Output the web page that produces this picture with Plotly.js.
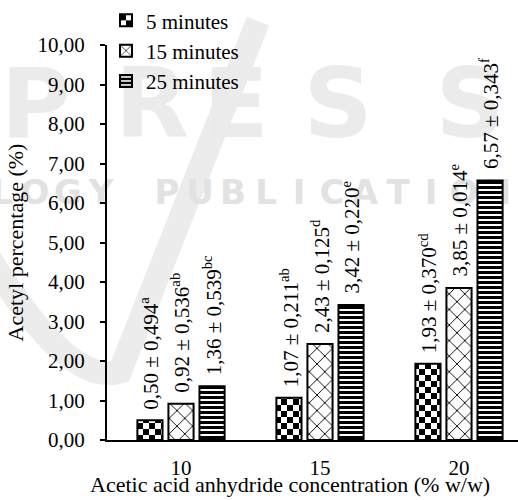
<!DOCTYPE html>
<html><head><meta charset="utf-8">
<script src="https://cdn.plot.ly/plotly-3.0.1.min.js"></script>
<style>
html,body{margin:0;padding:0;background:#fff}
#chart{width:518px;height:500px}
#chart .xtick text, #chart .ytick text, #chart .annotation-text, #chart .legendtext, #chart .ytitle { font-family: 'Liberation Serif' !important; }
</style>
</head><body><div id="chart"></div>
<script>
// ---- data ----
const categories = ['10', '15', '20'];
const seriesNames = ['5 minutes', '15 minutes', '25 minutes'];
const values5 = [0.50, 1.07, 1.93];
const values15 = [0.92, 2.43, 3.85];
const values25 = [1.36, 3.42, 6.57];
const sd5 = [0.494, 0.211, 0.370];
const sd15 = [0.536, 0.125, 0.014];
const sd25 = [0.539, 0.220, 0.343];
const letters5 = ['a', 'ab', 'cd'];
const letters15 = ['ab', 'd', 'e'];
const letters25 = ['bc', 'e', 'f'];
const yTickVals = [0, 1, 2, 3, 4, 5, 6, 7, 8, 9, 10];
const xTitle = 'Acetic acid anhydride concentration (% w/w)';
const yTitle = 'Acetyl percentage (%)';

(function () {
  const W = 518, H = 500;
  const MG = {l: 107, r: 0, t: 25, b: 60};
  const PW = W - MG.l - MG.r, PH = H - MG.t - MG.b;
  const px2x = p => (p - MG.l) / PW;
  const py2y = p => (H - MG.b - p) / PH;
  const FAM = 'Liberation Serif';
  const WMFAM = 'DejaVu Sans';
  const BARGAP = 0.33, BARGROUPGAP = 0.19;
  const fmt = (v, d) => v.toFixed(d).replace('.', ',');

  const allValues = [values5, values15, values25];
  const allSd = [sd5, sd15, sd25];
  const allLetters = [letters5, letters15, letters25];
  const patterns = [
    null,
    {shape: 'x', fgcolor: '#000', bgcolor: '#fff', size: 11, solidity: 0.16, fillmode: 'replace'},
    {shape: '-', fgcolor: '#000', bgcolor: '#fff', size: 5, solidity: 0.6, fillmode: 'replace'}
  ];

  const data = seriesNames.map((name, i) => {
    const m = {color: '#fff', line: {color: '#000', width: 2}};
    if (patterns[i]) m.pattern = patterns[i];
    return {type: 'bar', name: name, x: categories, y: allValues[i], marker: m, hoverinfo: 'skip'};
  });

  // ---- watermark (decoration, drawn below everything as shape labels) ----
  const shapes = [];
  const wmLabel = (ch, cx, cy, size, color) => shapes.push({
    type: 'rect', xref: 'paper', yref: 'paper', layer: 'below',
    x0: px2x(cx - 10), x1: px2x(cx + 10), y0: py2y(cy + 10), y1: py2y(cy - 10),
    line: {width: 0}, fillcolor: 'rgba(0,0,0,0)',
    label: {text: ch, textposition: 'middle center', font: {family: WMFAM, size: size, color: color, weight: 700}}
  });
  const swoosh = [[-10, 250], [70, 385], [120, 368], [258, 0]].map(p => [px2x(p[0]), py2y(p[1])]);
  shapes.push({
    type: 'path', xref: 'paper', yref: 'paper', layer: 'below',
    path: `M${swoosh[0][0]},${swoosh[0][1]} Q${swoosh[1][0]},${swoosh[1][1]} ${swoosh[2][0]},${swoosh[2][1]} L${swoosh[3][0]},${swoosh[3][1]}`,
    line: {color: '#ececec', width: 24}
  });
  const wmBig = 'PRESS';
  const wmBigX = [36, 152, 236, 338, 470];
  for (let k = 0; k < wmBig.length; k++) wmLabel(wmBig[k], wmBigX[k], 80, 96, '#ebebeb');
  const wmSmall = 'LOGY PUBLICATIONS';
  for (let k = 0; k < wmSmall.length; k++) if (wmSmall[k] !== ' ') wmLabel(wmSmall[k], 2 + 33 * k, 177, 34, '#e2e2e2');

  // ---- value labels above bars ----
  const annotations = [];
  const slot = (1 - BARGAP) / seriesNames.length;
  seriesNames.forEach((name, i) => {
    categories.forEach((c, j) => {
      annotations.push({
        xref: 'x', yref: 'y', x: j + (i - 1) * slot, y: allValues[i][j],
        xanchor: 'center', yanchor: 'bottom', yshift: 9, textangle: -90,
        text: fmt(allValues[i][j], 2) + ' ± ' + fmt(allSd[i][j], 3) + '<sup>' + allLetters[i][j] + '</sup>',
        showarrow: false, font: {family: FAM, size: 21, color: '#000'}
      });
    });
  });
  // x-axis title
  annotations.push({
    xref: 'paper', yref: 'paper', x: px2x(290), y: py2y(487), xanchor: 'center', yanchor: 'middle',
    text: xTitle, showarrow: false, font: {family: FAM, size: 22, color: '#000'}
  });

  const layout = {
    width: W, height: H, margin: {l: MG.l, r: MG.r, t: MG.t, b: MG.b, pad: 0},
    paper_bgcolor: '#fff', plot_bgcolor: 'rgba(0,0,0,0)',
    separators: ',.',
    font: {family: FAM, size: 21, color: '#000'},
    barmode: 'group', bargap: BARGAP, bargroupgap: BARGROUPGAP,
    showlegend: true,
    xaxis: {
      type: 'category', range: [-0.5324, 2.4245], showline: true, linewidth: 2, linecolor: '#000',
      ticks: '', showgrid: false, zeroline: false, ticklabelstandoff: 8, tickfont: {family: FAM, size: 21, color: '#000'}
    },
    yaxis: {
      range: [0, 10], tickmode: 'array', tickvals: yTickVals, tickformat: '.2f',
      showline: true, linewidth: 2, linecolor: '#000', ticks: 'outside', ticklen: 5, tickwidth: 2, tickcolor: '#000',
      showgrid: false, zeroline: false, ticklabelstandoff: 11, tickfont: {family: FAM, size: 21, color: '#000'},
      title: {text: yTitle, font: {family: FAM, size: 22, color: '#000'}, standoff: 8}
    },
    legend: {
      orientation: 'h', x: px2x(106), xanchor: 'left', y: py2y(31), yanchor: 'middle',
      bgcolor: 'rgba(0,0,0,0)', font: {family: FAM, size: 21, color: '#000'}, traceorder: 'normal'
    },
    annotations: annotations,
    shapes: shapes
  };

  const gd = document.getElementById('chart');
  Plotly.newPlot(gd, data, layout, {staticPlot: true, displayModeBar: false}).then(() => {
    // checkerboard fill for the "5 minutes" series (not a built-in pattern shape)
    const ns = 'http://www.w3.org/2000/svg';
    const defs = gd.querySelector('svg.main-svg defs');
    const pat = document.createElementNS(ns, 'pattern');
    pat.setAttribute('id', 'checker5');
    pat.setAttribute('patternUnits', 'userSpaceOnUse');
    pat.setAttribute('width', '12'); pat.setAttribute('height', '12');
    [[0, 0, 12, 12, '#fff'], [0, 0, 6, 6, '#000'], [6, 6, 6, 6, '#000']].forEach(r => {
      const e = document.createElementNS(ns, 'rect');
      e.setAttribute('x', r[0]); e.setAttribute('y', r[1]);
      e.setAttribute('width', r[2]); e.setAttribute('height', r[3]);
      e.setAttribute('fill', r[4]);
      pat.appendChild(e);
    });
    defs.appendChild(pat);
    const traces = gd.querySelectorAll('.barlayer .trace');
    if (traces[0]) traces[0].querySelectorAll('.point path').forEach(p => { p.style.fill = 'url(#checker5)'; });
    const legs = gd.querySelectorAll('.legend .traces');
    if (legs[0]) legs[0].querySelectorAll('.legendpoints path').forEach(p => { p.style.fill = 'url(#checker5)'; });
  });
})();
</script>
</body></html>
